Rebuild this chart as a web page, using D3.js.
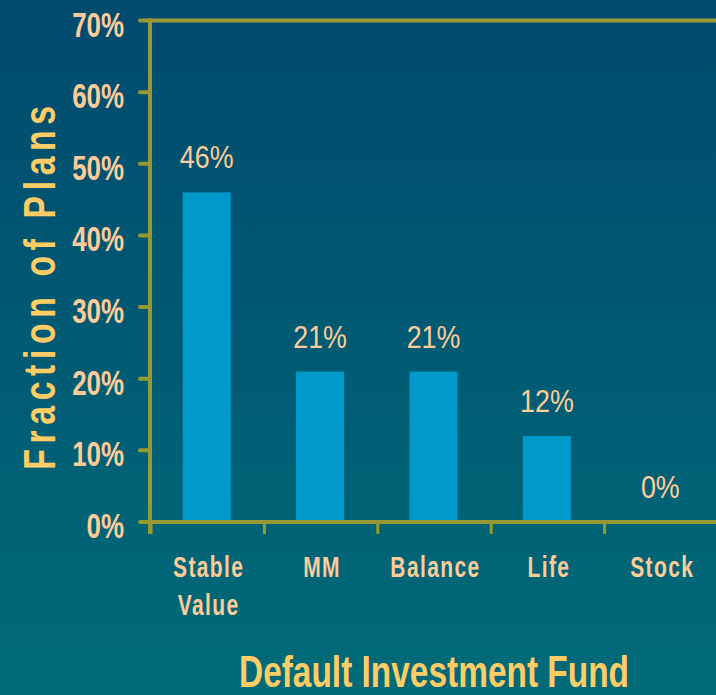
<!DOCTYPE html>
<html>
<head>
<meta charset="utf-8">
<script src="https://cdn.jsdelivr.net/npm/d3@7"></script>
<style>
  html, body { margin: 0; padding: 0; background: #005a72; }
  svg { display: block; }
  text { font-family: "Liberation Sans", Arial, sans-serif; }
</style>
</head>
<body>
<svg id="chart" width="716" height="695"></svg>
<script>
const categories = [["Stable", "Value"], ["MM"], ["Balance"], ["Life"], ["Stock"]];
const categoryKeys = ["Stable Value", "MM", "Balance", "Life", "Stock"];
const values = [46, 21, 21, 12, 0];
const valueLabels = ["46%", "21%", "21%", "12%", "0%"];
const yTicks = [0, 10, 20, 30, 40, 50, 60, 70];
const xTitle = "Default Investment Fund";
const yTitle = "Fraction of Plans";

const W = 716, H = 695;
const svg = d3.select("#chart");

// background gradient
const defs = svg.append("defs");
const grad = defs.append("linearGradient").attr("id", "bg").attr("x1", 0).attr("y1", 0).attr("x2", 0).attr("y2", 1);
grad.append("stop").attr("offset", "0%").attr("stop-color", "#004a6e");
grad.append("stop").attr("offset", "100%").attr("stop-color", "#006b78");
svg.append("rect").attr("width", W).attr("height", H).attr("fill", "url(#bg)");

const axisColor = "#999933";
const peach = "#ffcc99";
const gold = "#ffcc66";

const x = d3.scaleBand().domain(categoryKeys).range([150, 717]).paddingInner(0.576).paddingOuter(0.288);
const xTicksScale = d3.scaleBand().domain(categoryKeys).range([150, 717]).padding(0);
const y = d3.scaleLinear().domain([0, 70]).range([522, 20.5]);

// bars
svg.append("g").selectAll("rect").data(values).join("rect")
  .attr("x", (d, i) => x(categoryKeys[i]))
  .attr("width", x.bandwidth())
  .attr("y", d => y(d))
  .attr("height", d => y(0) - y(d))
  .attr("fill", "#0099cc");

// y axis line and ticks
const g = svg.append("g");
g.append("line").attr("x1", 150).attr("x2", 150).attr("y1", y(70) - 2).attr("y2", y(0) + 12)
  .attr("stroke", axisColor).attr("stroke-width", 4);
g.selectAll(".yt").data(yTicks).join("line")
  .attr("x1", 140).attr("x2", 150).attr("y1", d => y(d)).attr("y2", d => y(d))
  .attr("stroke", axisColor).attr("stroke-width", 4).attr("stroke-linecap", "round");
// top line at 70%
g.append("line").attr("x1", 150).attr("x2", 716).attr("y1", y(70)).attr("y2", y(70))
  .attr("stroke", axisColor).attr("stroke-width", 4);
// x axis line
g.append("line").attr("x1", 150).attr("x2", 716).attr("y1", y(0)).attr("y2", y(0))
  .attr("stroke", axisColor).attr("stroke-width", 4);
// x ticks (band boundaries)
const xBoundaries = categoryKeys.map(k => xTicksScale(k));
g.selectAll(".xt").data(xBoundaries).join("line")
  .attr("x1", d => d + 1).attr("x2", d => d + 1).attr("y1", y(0)).attr("y2", y(0) + 12)
  .attr("stroke", axisColor).attr("stroke-width", 3);

// y tick labels
svg.append("g").selectAll("text").data(yTicks).join("text")
  .attr("transform", d => `translate(124,${y(d) + 16}) scale(0.72,1)`)
  .attr("text-anchor", "end")
  .attr("font-size", 36).attr("font-weight", "bold").attr("fill", peach)
  .text(d => d + "%");

// value labels
svg.append("g").selectAll("text").data(values).join("text")
  .attr("transform", (d, i) => `translate(${x(categoryKeys[i]) + x.bandwidth() / 2},${y(d) - 24}) scale(0.88,1)`)
  .attr("text-anchor", "middle")
  .attr("font-size", 30.5).attr("fill", peach)
  .text((d, i) => valueLabels[i]);

// category labels
const cg = svg.append("g").selectAll("g").data(categories).join("g")
  .attr("transform", (d, i) => `translate(${x(categoryKeys[i]) + x.bandwidth() / 2 + 2},0)`);
cg.selectAll("text").data(d => d).join("text")
  .attr("transform", (d, j) => `translate(0,${577 + j * 38}) scale(0.7,1)`)
  .attr("text-anchor", "middle")
  .attr("font-size", 30).attr("font-weight", "bold").attr("fill", peach)
  .attr("letter-spacing", 2)
  .text(d => d);

// x title
svg.append("text")
  .attr("transform", `translate(434,687) scale(0.76,1)`)
  .attr("text-anchor", "middle")
  .attr("font-size", 44).attr("font-weight", "bold").attr("fill", gold)
  .text(xTitle);

// y title
svg.append("text")
  .attr("transform", `translate(55,285) rotate(-90) scale(0.75,1)`)
  .attr("text-anchor", "middle")
  .attr("font-size", 45).attr("font-weight", "bold").attr("fill", gold)
  .attr("letter-spacing", 7.5)
  .text(yTitle);
</script>
</body>
</html>
